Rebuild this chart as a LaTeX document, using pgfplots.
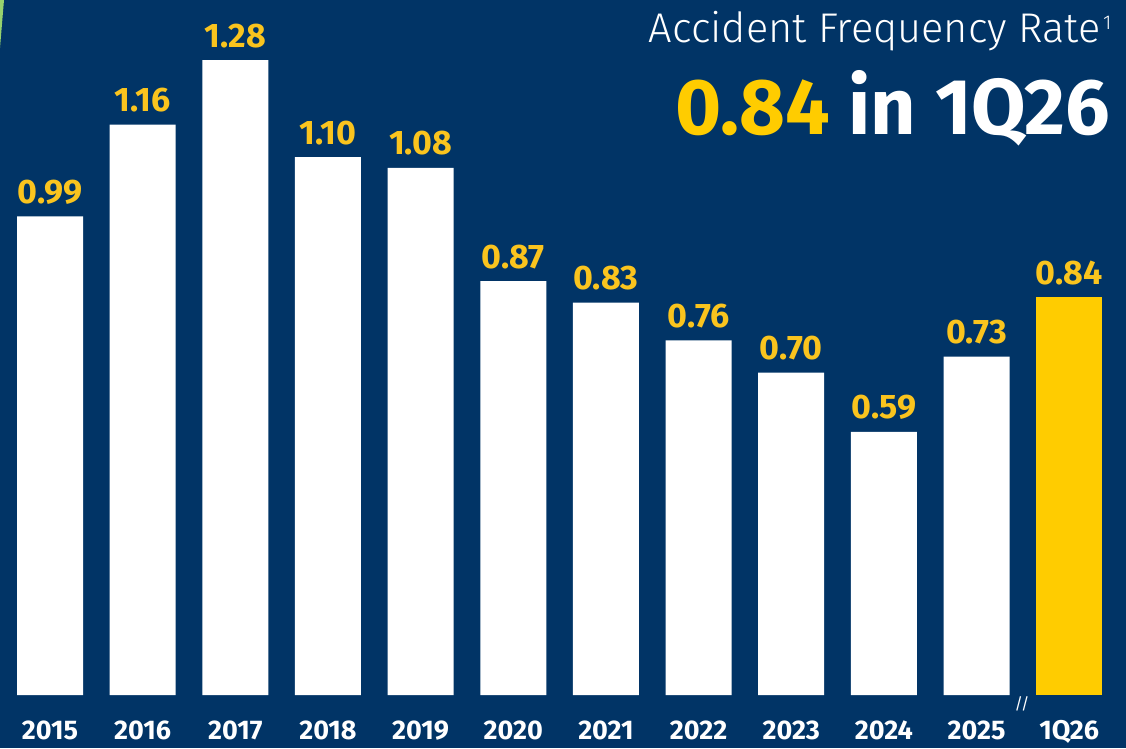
\documentclass[border=0pt]{standalone}
\usepackage{pgfplots}
\pgfplotsset{compat=1.18}
\usepackage{fontspec}
\setmainfont{Fira Sans}
\newfontfamily\lightfont{Fira Sans Light}
\definecolor{navy}{RGB}{1,52,102}
\definecolor{gold}{RGB}{255,204,0}
\definecolor{labgold}{RGB}{250,196,30}
\definecolor{leaf}{RGB}{150,210,110}
\begin{document}
\begin{tikzpicture}[x=1pt,y=1pt]
\fill[navy] (0,0) rectangle (1126,748);
\fill[leaf] (0,748) -- (4,748) -- (0,700) -- cycle;
\begin{axis}[
  at={(3.7pt,53pt)}, anchor=south west,
  scale only axis, width=1111.8pt, height=695pt,
  xmin=-0.5, xmax=11.5, ymin=0.102, ymax=1.3914,
  axis line style={draw=none}, tick style={draw=none},
  ytick=\empty,
  xtick={0,1,2,3,4,5,6,7,8,9,10,11},
  xticklabels={2015,2016,2017,2018,2019,2020,2021,2022,2023,2024,2025,1Q26},
  xticklabel style={font=\fontsize{27}{27}\selectfont\bfseries, text=white, anchor=base, yshift=-40pt},
  ybar, bar width=66pt, bar shift=0pt,
  clip=false,
  /pgf/number format/assume math mode=true,
  nodes near coords={\pgfmathprintnumber[fixed,fixed zerofill,precision=2]{\pgfplotspointmeta}},
  every node near coord/.append style={font=\fontsize{34}{34}\selectfont\bfseries, text=labgold, anchor=base, yshift=13pt, inner sep=0pt},
]
\addplot[fill=white, draw=none] coordinates {
(0,0.99) (1,1.16) (2,1.28) (3,1.10) (4,1.08) (5,0.87) (6,0.83) (7,0.76) (8,0.70) (9,0.59) (10,0.73)};
\addplot[fill=gold, draw=none] coordinates {(11,0.84)};
\end{axis}
\node[anchor=base east, text=white, font=\fontsize{41.5}{41.5}\selectfont\lightfont, inner sep=0pt] at (1101,705) {Accident Frequency Rate};
\node[anchor=base west, text=white, font=\fontsize{20}{20}\selectfont\lightfont, inner sep=0pt] at (1103,718) {1};
\node[anchor=base east, font=\fontsize{79}{79}\selectfont\bfseries, inner sep=0pt] at (1110,613) {\textcolor{gold}{0.84} \textcolor{white}{in 1Q26}};
\node[text=white, font=\fontsize{16}{16}\selectfont, inner sep=0pt] at (1022,44) {//};
\pgfresetboundingbox
\useasboundingbox (0,0) rectangle (1126,748);
\end{tikzpicture}
\end{document}
